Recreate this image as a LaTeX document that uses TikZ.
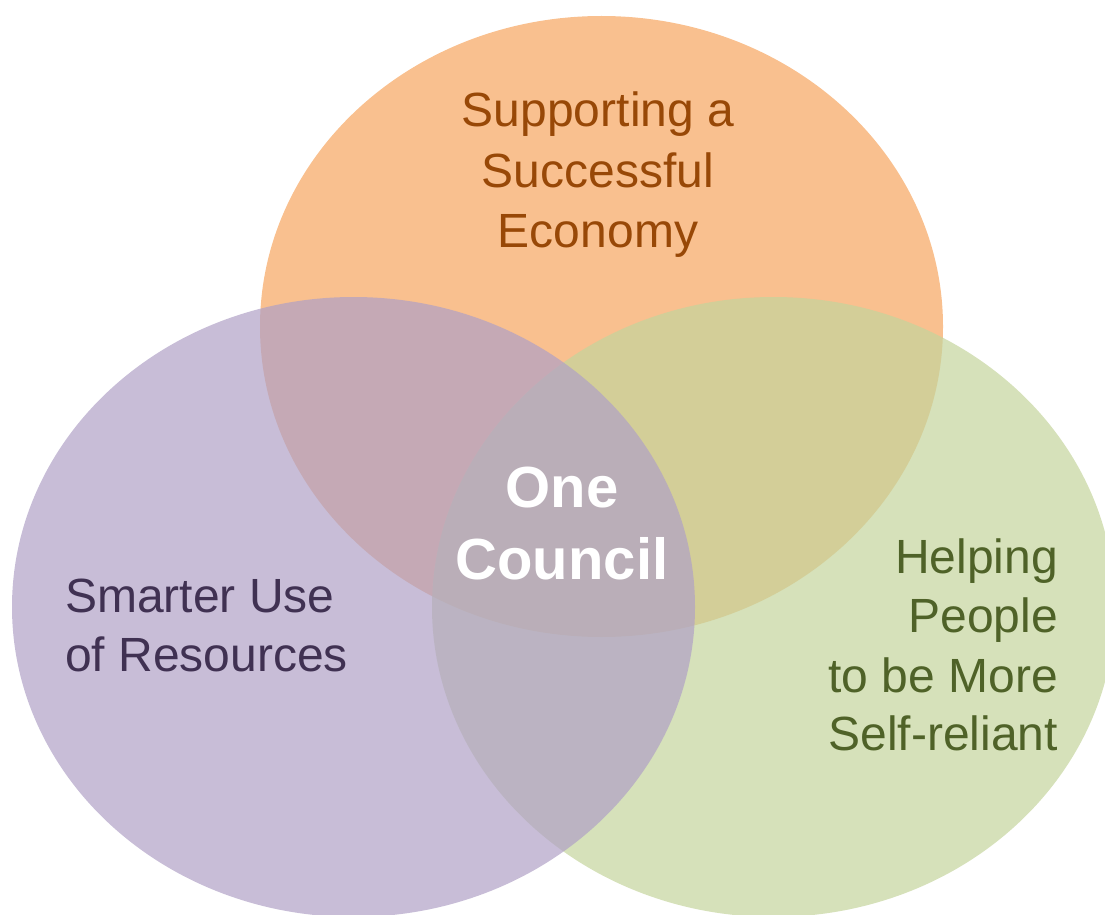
\documentclass[tikz,border=0pt]{standalone}
\usepackage{fontspec}
\setmainfont{Liberation Sans}
\definecolor{orfill}{RGB}{246,165,95}
\definecolor{pufill}{RGB}{176,161,198}
\definecolor{grfill}{RGB}{196,212,156}
\definecolor{ortext}{RGB}{152,72,7}
\definecolor{putext}{RGB}{64,49,82}
\definecolor{grtext}{RGB}{79,98,40}
\tikzset{
  blob/.style={fill opacity=0.7, draw=none},
  lbl/.style={inner sep=0pt, font=\fontsize{48}{60}\selectfont},
  core/.style={inner sep=0pt, text=white, font=\fontsize{58}{72}\selectfont\bfseries}
}
\begin{document}
\begin{tikzpicture}[x=1pt,y=-1pt]
\useasboundingbox (0,0) rectangle (1105,915);
% circles
\fill[blob, orfill] (601.5,326.5) ellipse [x radius=341.5, y radius=310.5];
\fill[blob, grfill] (773.5,607) ellipse [x radius=341.5, y radius=310];
\fill[blob, pufill] (353.5,607) ellipse [x radius=341.5, y radius=310];
% top text
\node[lbl, text=ortext, anchor=base] (e1) at (598,127) {Supporting a};
\node[lbl, text=ortext, anchor=base] (e2) at (598,187) {Successful};
\node[lbl, text=ortext, anchor=base] (e3) at (598,247) {Economy};
% left text
\node[lbl, text=putext, anchor=base west] (r1) at (65,612) {Smarter Use};
\node[lbl, text=putext, anchor=base west] (r2) at (65,671) {of Resources};
% right text
\node[lbl, text=grtext, anchor=base east] (h1) at (1058,573) {Helping};
\node[lbl, text=grtext, anchor=base east] (h2) at (1058,632) {People};
\node[lbl, text=grtext, anchor=base east] (h3) at (1058,692) {to be More};
\node[lbl, text=grtext, anchor=base east] (h4) at (1058,750) {Self-reliant};
% centre
\node[core, anchor=base] (c1) at (562,507) {One};
\node[core, anchor=base] (c2) at (562,579) {Council};
\end{tikzpicture}
\end{document}
